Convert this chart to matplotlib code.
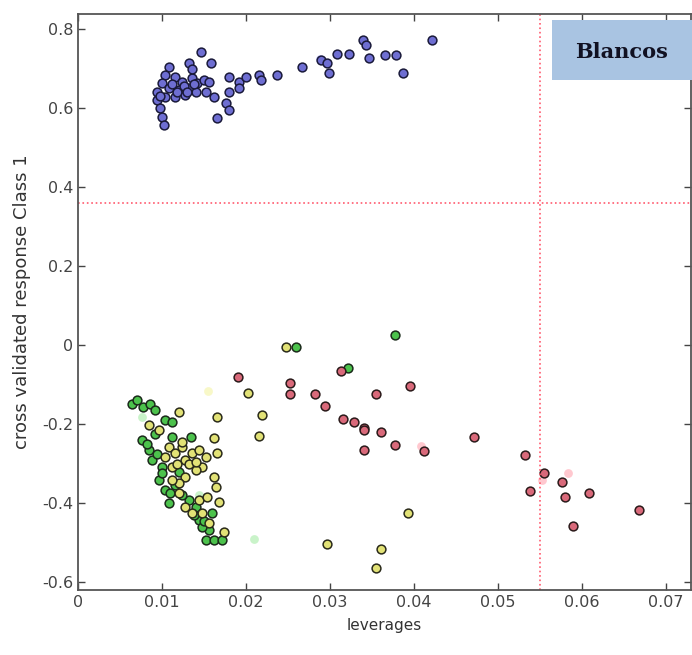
import numpy as np
import matplotlib.pyplot as plt
from matplotlib.patches import Rectangle

# class 1 (blue) samples
blue_x = [0.0146, 0.0158, 0.0108, 0.0132, 0.0104, 0.0116, 0.0124, 0.0136, 0.0142, 0.0150,
          0.0156, 0.0100, 0.0108, 0.0120, 0.0132, 0.0140, 0.0094, 0.0094, 0.0104, 0.0116,
          0.0128, 0.0098, 0.0100, 0.0102, 0.0162, 0.0176, 0.0180, 0.0166, 0.0180, 0.0192,
          0.0200, 0.0192, 0.0180, 0.0216, 0.0218, 0.0237, 0.0267, 0.0289, 0.0297, 0.0299,
          0.0309, 0.0323, 0.0339, 0.0343, 0.0347, 0.0365, 0.0379, 0.0387, 0.0422, 0.0152,
          0.0136, 0.0112, 0.0126, 0.0138, 0.0130, 0.0118, 0.0098]
blue_y = [0.743, 0.715, 0.705, 0.713, 0.684, 0.679, 0.667, 0.675, 0.663, 0.671,
          0.667, 0.663, 0.650, 0.646, 0.650, 0.641, 0.641, 0.620, 0.629, 0.629,
          0.633, 0.599, 0.578, 0.557, 0.629, 0.612, 0.595, 0.574, 0.679, 0.667,
          0.679, 0.650, 0.641, 0.684, 0.671, 0.684, 0.705, 0.722, 0.713, 0.688,
          0.738, 0.738, 0.772, 0.759, 0.726, 0.734, 0.734, 0.688, 0.772, 0.641,
          0.700, 0.660, 0.655, 0.660, 0.640, 0.640, 0.630]

# red samples
red_x = [0.0191, 0.0253, 0.0253, 0.0282, 0.0294, 0.0313, 0.0316, 0.0329, 0.0340, 0.0341,
         0.0355, 0.0361, 0.0341, 0.0377, 0.0395, 0.0412, 0.0472, 0.0532, 0.0555, 0.0576,
         0.0538, 0.0580, 0.0609, 0.0589, 0.0668]
red_y = [-0.082, -0.097, -0.124, -0.124, -0.154, -0.065, -0.188, -0.195, -0.211, -0.215,
         -0.124, -0.220, -0.266, -0.254, -0.103, -0.268, -0.232, -0.278, -0.325, -0.346,
         -0.369, -0.384, -0.374, -0.458, -0.418]

# green samples
green_x = [0.0260, 0.0322, 0.0377, 0.0064, 0.0070, 0.0078, 0.0086, 0.0092, 0.0104, 0.0112,
           0.0076, 0.0084, 0.0088, 0.0100, 0.0096, 0.0104, 0.0108, 0.0110, 0.0134, 0.0132,
           0.0140, 0.0144, 0.0156, 0.0152, 0.0162, 0.0172, 0.0120, 0.0092, 0.0112, 0.0160,
           0.0148, 0.0082, 0.0094, 0.0100, 0.0116, 0.0124, 0.0138, 0.0150]
green_y = [-0.004, -0.057, 0.025, -0.148, -0.139, -0.156, -0.148, -0.165, -0.190, -0.194,
           -0.241, -0.266, -0.291, -0.308, -0.342, -0.367, -0.401, -0.375, -0.232, -0.392,
           -0.409, -0.443, -0.468, -0.494, -0.494, -0.494, -0.321, -0.224, -0.232, -0.426,
           -0.460, -0.250, -0.275, -0.325, -0.355, -0.380, -0.430, -0.445]

# yellow samples
yellow_x = [0.0248, 0.0203, 0.0219, 0.0216, 0.0393, 0.0296, 0.0361, 0.0355, 0.0120, 0.0166,
            0.0162, 0.0166, 0.0162, 0.0164, 0.0168, 0.0174, 0.0084, 0.0096, 0.0108, 0.0116,
            0.0124, 0.0128, 0.0136, 0.0144, 0.0152, 0.0148, 0.0140, 0.0128, 0.0120, 0.0112,
            0.0120, 0.0128, 0.0136, 0.0148, 0.0144, 0.0154, 0.0104, 0.0112, 0.0118, 0.0132,
            0.0140, 0.0124, 0.0156]
yellow_y = [-0.004, -0.122, -0.177, -0.230, -0.426, -0.504, -0.516, -0.565, -0.169, -0.182,
            -0.236, -0.274, -0.333, -0.359, -0.397, -0.473, -0.203, -0.215, -0.257, -0.274,
            -0.257, -0.291, -0.274, -0.266, -0.283, -0.308, -0.316, -0.333, -0.350, -0.342,
            -0.375, -0.409, -0.426, -0.426, -0.392, -0.384, -0.283, -0.308, -0.300, -0.300,
            -0.295, -0.245, -0.450]

# faint (edgeless) points
faint_red_x = [0.0583, 0.0552, 0.0408]
faint_red_y = [-0.325, -0.342, -0.256]
faint_green_x = [0.0210, 0.0144, 0.0076]
faint_green_y = [-0.492, -0.380, -0.182]
faint_yellow_x = [0.0155]
faint_yellow_y = [-0.116]
faint_blue_x = [0.0288, 0.0125]
faint_blue_y = [0.725, 0.640]

lev_limit = 0.055
resp_limit = 0.36

fig = plt.figure(figsize=(6.92, 6.55), dpi=100)
ax = fig.add_axes([78 / 692, 1 - 590 / 655, 613 / 692, 576 / 655])

ms = 40
ew = 1.1
ax.scatter(faint_green_x, faint_green_y, s=ms, c='#66dd66', alpha=0.35, lw=0)
ax.scatter(faint_yellow_x, faint_yellow_y, s=ms, c='#eeee77', alpha=0.4, lw=0)
ax.scatter(faint_red_x, faint_red_y, s=ms, c='#ff7788', alpha=0.4, lw=0)
ax.scatter(faint_blue_x, faint_blue_y, s=ms, c='#7777ff', alpha=0.4, lw=0)
ax.scatter(green_x, green_y, s=ms, c='#4cc24c', edgecolors='#1a2a1a', linewidths=ew)
ax.scatter(yellow_x, yellow_y, s=ms, c='#e2e276', edgecolors='#2a2a1a', linewidths=ew)
ax.scatter(red_x, red_y, s=ms, c='#d9697a', edgecolors='#2a1a1a', linewidths=ew)
ax.scatter(blue_x, blue_y, s=ms, c='#6e6ed2', edgecolors='#1a1a3a', linewidths=ew)

ax.axvline(lev_limit, color='#ff5a6e', ls=':', lw=1.2)
ax.axhline(resp_limit, color='#ff5a6e', ls=':', lw=1.2)

ax.set_xlim(0, 0.073)
ax.set_ylim(-0.62, 0.838)
ax.set_xticks(np.arange(0, 0.071, 0.01))
ax.set_xticklabels(['0', '0.01', '0.02', '0.03', '0.04', '0.05', '0.06', '0.07'])
ax.set_yticks([-0.6, -0.4, -0.2, 0, 0.2, 0.4, 0.6, 0.8])
ax.set_yticklabels(['-0.6', '-0.4', '-0.2', '0', '0.2', '0.4', '0.6', '0.8'])
ax.tick_params(direction='in', top=True, right=True, labelsize=11.5,
               colors='#444444', length=5, width=1)
for s in ax.spines.values():
    s.set_color('#555555')
    s.set_linewidth(1.3)
ax.set_xlabel('leverages', fontsize=11, color='#333333', labelpad=6)
ax.set_ylabel('cross validated response Class 1', fontsize=13, color='#333333', labelpad=8)

fig.patches.append(Rectangle((552 / 692, 1 - 80 / 655), 140 / 692, 60 / 655,
                             transform=fig.transFigure, facecolor='#a9c4e2',
                             edgecolor='none', zorder=5))
fig.text(622 / 692, 1 - 52 / 655, 'Blancos', ha='center', va='center',
         fontsize=15, fontweight='bold', family='serif', color='#111122', zorder=6)

fig.savefig('out.png', dpi=100)
